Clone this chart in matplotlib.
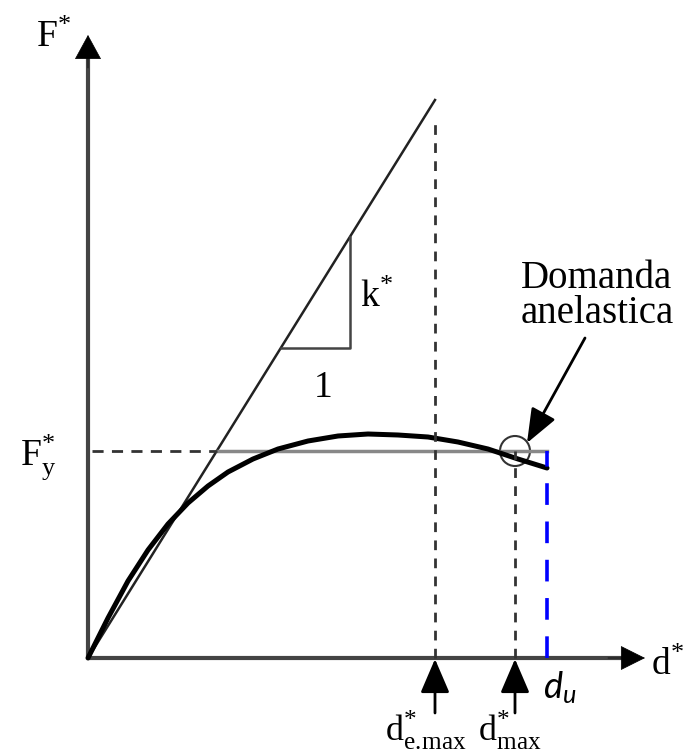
import numpy as np
import matplotlib.pyplot as plt
from matplotlib.patches import Circle

plt.rcParams['mathtext.fontset'] = 'custom'
plt.rcParams['mathtext.rm'] = 'Liberation Serif'
plt.rcParams['mathtext.it'] = 'Lato:italic'

# curva di capacità (d*, F*)
d_curve = [0, 20, 40, 60, 80, 100, 120, 140, 165, 190, 220, 250, 280, 310, 340, 370, 400, 430, 459]
F_curve = [0, 40, 77, 108, 134, 155, 172, 186, 199, 209, 217, 222, 224, 223, 221, 216, 209, 199, 190]

k_el = 558 / 347      # rigidezza elastica k*
F_y = 207             # forza di snervamento F*y
d_emax = 347          # d*e.max
d_max = 427           # d*max
d_u = 459             # du
d_y = F_y / k_el

tri_d = [192.5, 262.0]  # triangolo della pendenza

fig = plt.figure(figsize=(6.87, 7.55), dpi=100)
ax = fig.add_axes([0, 0, 1, 1])
ax.set_xlim(-88, 599)
ax.set_ylim(-97, 658)
ax.axis('off')

fs = 27

# assi con frecce
ax.plot([0, 0], [0, 605], color='#444', lw=3, solid_capstyle='butt')
ax.plot([0, 540], [0, 0], color='#444', lw=3, solid_capstyle='butt')
ax.annotate('', xy=(0, 623), xytext=(0, 590),
            arrowprops=dict(arrowstyle='-|>,head_length=1.1,head_width=0.6',
                            color='black', lw=0.5, mutation_scale=15,
                            shrinkA=0, shrinkB=0))
ax.annotate('', xy=(557, 0), xytext=(520, 0),
            arrowprops=dict(arrowstyle='-|>,head_length=1.1,head_width=0.55',
                            color='black', lw=0.5, mutation_scale=15,
                            shrinkA=0, shrinkB=0))

# retta elastica
ax.plot([0, d_emax], [0, k_el * d_emax], color='#222', lw=1.8)
# triangolo k*
ax.plot([tri_d[0], tri_d[1], tri_d[1]],
        [k_el * tri_d[0], k_el * tri_d[0], k_el * tri_d[1]], color='#444', lw=1.8)

# bilineare
ax.plot([d_y, d_u], [F_y, F_y], color='#888', lw=2.5)
ax.plot([4, d_y], [F_y, F_y], color='#333', lw=2, dashes=(4, 3))

# curva di capacità
ax.plot(d_curve, F_curve, color='black', lw=3.6, solid_joinstyle='round',
        solid_capstyle='round')

# verticali tratteggiate
ax.plot([d_emax, d_emax], [0, 540], color='#333', lw=2, dashes=(3.5, 3))
ax.plot([d_max, d_max], [0, F_y], color='#333', lw=2, dashes=(3.5, 3))
ax.plot([d_u, d_u], [0, F_y], color='#0000ff', lw=2.6, dashes=(6, 4.6))

# cerchio domanda
ax.add_patch(Circle((d_max, F_y), 15, fill=False, ec='#333', lw=1.5))
ax.annotate('', xy=(439, 215), xytext=(497, 320),
            arrowprops=dict(arrowstyle='-|>,head_length=1.4,head_width=0.55',
                            color='black', lw=2, mutation_scale=15,
                            shrinkA=0, shrinkB=0))
ax.text(509, 362, 'Domanda\nanelastica', fontfamily='Liberation Serif', fontsize=28,
        ha='center', va='center', linespacing=0.95)

# frecce sotto l'asse
for dd in [d_emax, d_max]:
    ax.annotate('', xy=(dd, -1), xytext=(dd, -55),
                arrowprops=dict(arrowstyle='-|>,head_length=1.4,head_width=0.6',
                                color='black', lw=2, mutation_scale=15,
                                shrinkA=0, shrinkB=0))

# etichette
ax.text(-52, 611, r'$\mathrm{F}^{*}$', fontsize=fs, ha='left', va='baseline')
ax.text(-68, 193, r'$\mathrm{F}^{*}_{\mathrm{y}}$', fontsize=fs, ha='left', va='baseline')
ax.text(272, 351, r'$\mathrm{k}^{*}$', fontsize=fs, ha='left', va='baseline')
ax.text(234, 261, r'$\mathrm{1}$', fontsize=fs, ha='center', va='baseline')
ax.text(297, -82, r'$\mathrm{d}^{*}_{\mathrm{e.\!max}}$', fontsize=26, ha='left', va='baseline')
ax.text(390, -82, r'$\mathrm{d}^{*}_{\mathrm{max}}$', fontsize=26, ha='left', va='baseline')
ax.text(563, -17, r'$\mathrm{d}^{*}$', fontsize=fs, ha='left', va='baseline')
ax.text(455, -40, r'$d_u$', fontsize=26, ha='left', va='baseline')

fig.savefig('out.png', dpi=100)
